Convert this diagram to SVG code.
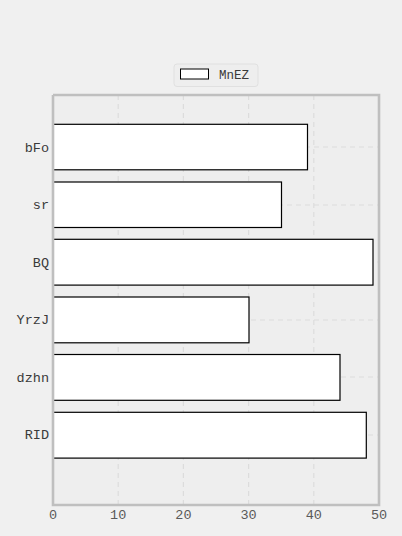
<svg xmlns="http://www.w3.org/2000/svg" width="402" height="536" viewBox="0 0 402 536">
<style>
.bar{fill:#ffffff;stroke:#000000;stroke-width:1.2}
.grid{stroke:#dcdcdc;stroke-width:1.2;stroke-dasharray:5,4;fill:none}
.spine{stroke:#bfbfbf;stroke-width:2.6;fill:none}
.ylab{font-family:"Liberation Mono",monospace;font-size:13.5px;fill:#3a3a3a;text-anchor:end}
.xlab{font-family:"Liberation Mono",monospace;font-size:13.5px;fill:#5a5a5a;text-anchor:middle}
.leg{font-family:"Liberation Mono",monospace;font-size:12.5px;fill:#3a3a3a}
</style>
<rect x="0" y="0" width="402" height="536" fill="#f0f0f0"/>
<rect x="53" y="95" width="326" height="410" fill="#eeeeee"/>
<g id="grid">
<line class="grid" x1="118.2" y1="95" x2="118.2" y2="505"/>
<line class="grid" x1="183.4" y1="95" x2="183.4" y2="505"/>
<line class="grid" x1="248.6" y1="95" x2="248.6" y2="505"/>
<line class="grid" x1="313.8" y1="95" x2="313.8" y2="505"/>
<line class="grid" x1="53" y1="147" x2="379" y2="147"/>
<line class="grid" x1="53" y1="205" x2="379" y2="205"/>
<line class="grid" x1="53" y1="262" x2="379" y2="262"/>
<line class="grid" x1="53" y1="320" x2="379" y2="320"/>
<line class="grid" x1="53" y1="377" x2="379" y2="377"/>
<line class="grid" x1="53" y1="435" x2="379" y2="435"/>
</g>
<g id="bars">
<rect id="bar-bFo" class="bar" x="53" y="124.3" width="254.5" height="45.5"/>
<rect id="bar-sr" class="bar" x="53" y="182" width="228.5" height="45.5"/>
<rect id="bar-BQ" class="bar" x="53" y="239.3" width="320" height="45.8"/>
<rect id="bar-YrzJ" class="bar" x="53" y="297" width="196" height="45.8"/>
<rect id="bar-dzhn" class="bar" x="53" y="354.5" width="287" height="45.8"/>
<rect id="bar-RID" class="bar" x="53" y="412.3" width="313.3" height="45.8"/>
</g>
<g id="spines">
<polyline class="spine" points="53,95 379,95 379,505 53,505 53,95"/>
</g>
<g id="ylabels">
<text class="ylab" x="49" y="151.5">bFo</text>
<text class="ylab" x="49" y="209">sr</text>
<text class="ylab" x="49" y="266.5">BQ</text>
<text class="ylab" x="49" y="324">YrzJ</text>
<text class="ylab" x="49" y="381.5">dzhn</text>
<text class="ylab" x="49" y="439">RID</text>
</g>
<g id="xlabels">
<text class="xlab" x="53" y="519">0</text>
<text class="xlab" x="118.2" y="519">10</text>
<text class="xlab" x="183.4" y="519">20</text>
<text class="xlab" x="248.6" y="519">30</text>
<text class="xlab" x="313.8" y="519">40</text>
<text class="xlab" x="379" y="519">50</text>
</g>
<g id="legend">
<rect x="174" y="64" width="84" height="22.5" rx="3" fill="#eeeeee" stroke="#e0e0e0" stroke-width="1"/>
<rect x="180.5" y="69" width="28" height="10" fill="#ffffff" stroke="#000000" stroke-width="1"/>
<text class="leg" x="219" y="78.5">MnEZ</text>
</g>
</svg>
